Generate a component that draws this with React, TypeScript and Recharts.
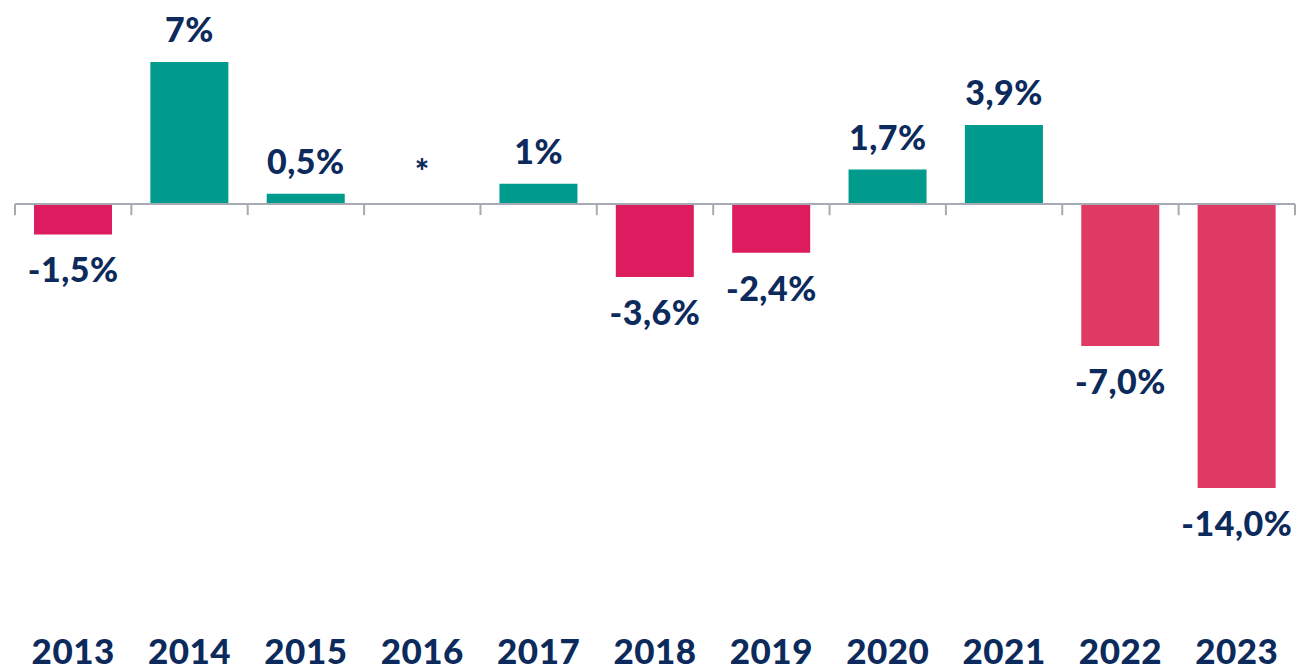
import { BarChart, Bar, XAxis, YAxis, Cell, ReferenceLine, ReferenceDot } from "recharts";

const years = ["2013", "2014", "2015", "2016", "2017", "2018", "2019", "2020", "2021", "2022", "2023"];
const changes = [-1.5, 7, 0.5, 0, 1, -3.6, -2.4, 1.7, 3.9, -7.0, -14.0];
const valueLabels = ["-1,5%", "7%", "0,5%", "*", "1%", "-3,6%", "-2,4%", "1,7%", "3,9%", "-7,0%", "-14,0%"];
const barColors = [
  "#dc1c5e", "#009b8d", "#009b8d", "#009b8d", "#009b8d", "#dc1c5e",
  "#dc1c5e", "#009b8d", "#009b8d", "#de3a64", "#de3a64",
];

const NAVY = "#0c2a5b";
const AXIS = "#a6aab3";
const FONT = "Lato, sans-serif";

// slot = centre of each category on a 0..n numeric axis, used for the tick marks on the zero line
const data = years.map((year, i) => ({ year, change: changes[i], slot: i + 0.5 }));
const boundaries = years.map((_, i) => i).concat(years.length);

function labelShape(text: string, negative: boolean) {
  return (props: any) => (
    <text
      x={props.cx}
      y={negative ? props.cy + 48 : props.cy - 20}
      textAnchor="middle"
      fill={NAVY}
      fontFamily={FONT}
      fontWeight={900}
      fontSize={34}
      letterSpacing={0.5}
    >
      {text}
    </text>
  );
}

function YearTick(props: any) {
  const { x, y, payload } = props;
  return (
    <text x={x} y={y + 168} textAnchor="middle" fill={NAVY} fontFamily={FONT} fontWeight={900} fontSize={35} letterSpacing={0.5}>
      {payload.value}
    </text>
  );
}

export default function App() {
  return (
    <div style={{ position: "absolute", left: 0, top: 0 }}>
      <BarChart
        width={1305}
        height={671}
        data={data}
        margin={{ top: 62, right: 10, bottom: 0, left: 15 }}
      >
        <XAxis
          xAxisId="cat"
          dataKey="year"
          axisLine={false}
          tickLine={false}
          height={183}
          interval={0}
          tick={<YearTick />}
        />
        <XAxis
          xAxisId="num"
          dataKey="slot"
          type="number"
          domain={[0, years.length]}
          ticks={boundaries}
          hide
          allowDataOverflow
        />
        <YAxis domain={[-14, 7]} hide allowDataOverflow />
        <Bar dataKey="change" xAxisId="cat" barSize={78} isAnimationActive={false}>
          {data.map((d, i) => (
            <Cell key={d.year} fill={barColors[i]} />
          ))}
        </Bar>
        <ReferenceLine xAxisId="num" y={0} stroke={AXIS} strokeWidth={2} />
        {boundaries.map((b) => (
          <ReferenceLine
            key={b}
            xAxisId="num"
            segment={[{ x: b, y: 0 }, { x: b, y: -0.55 }]}
            stroke={AXIS}
            strokeWidth={2}
          />
        ))}
        {data.map((d, i) => (
          <ReferenceDot
            key={"l" + d.year}
            xAxisId="cat"
            x={d.year}
            y={d.change}
            r={0}
            shape={labelShape(valueLabels[i], d.change < 0)}
          />
        ))}
      </BarChart>
    </div>
  );
}
